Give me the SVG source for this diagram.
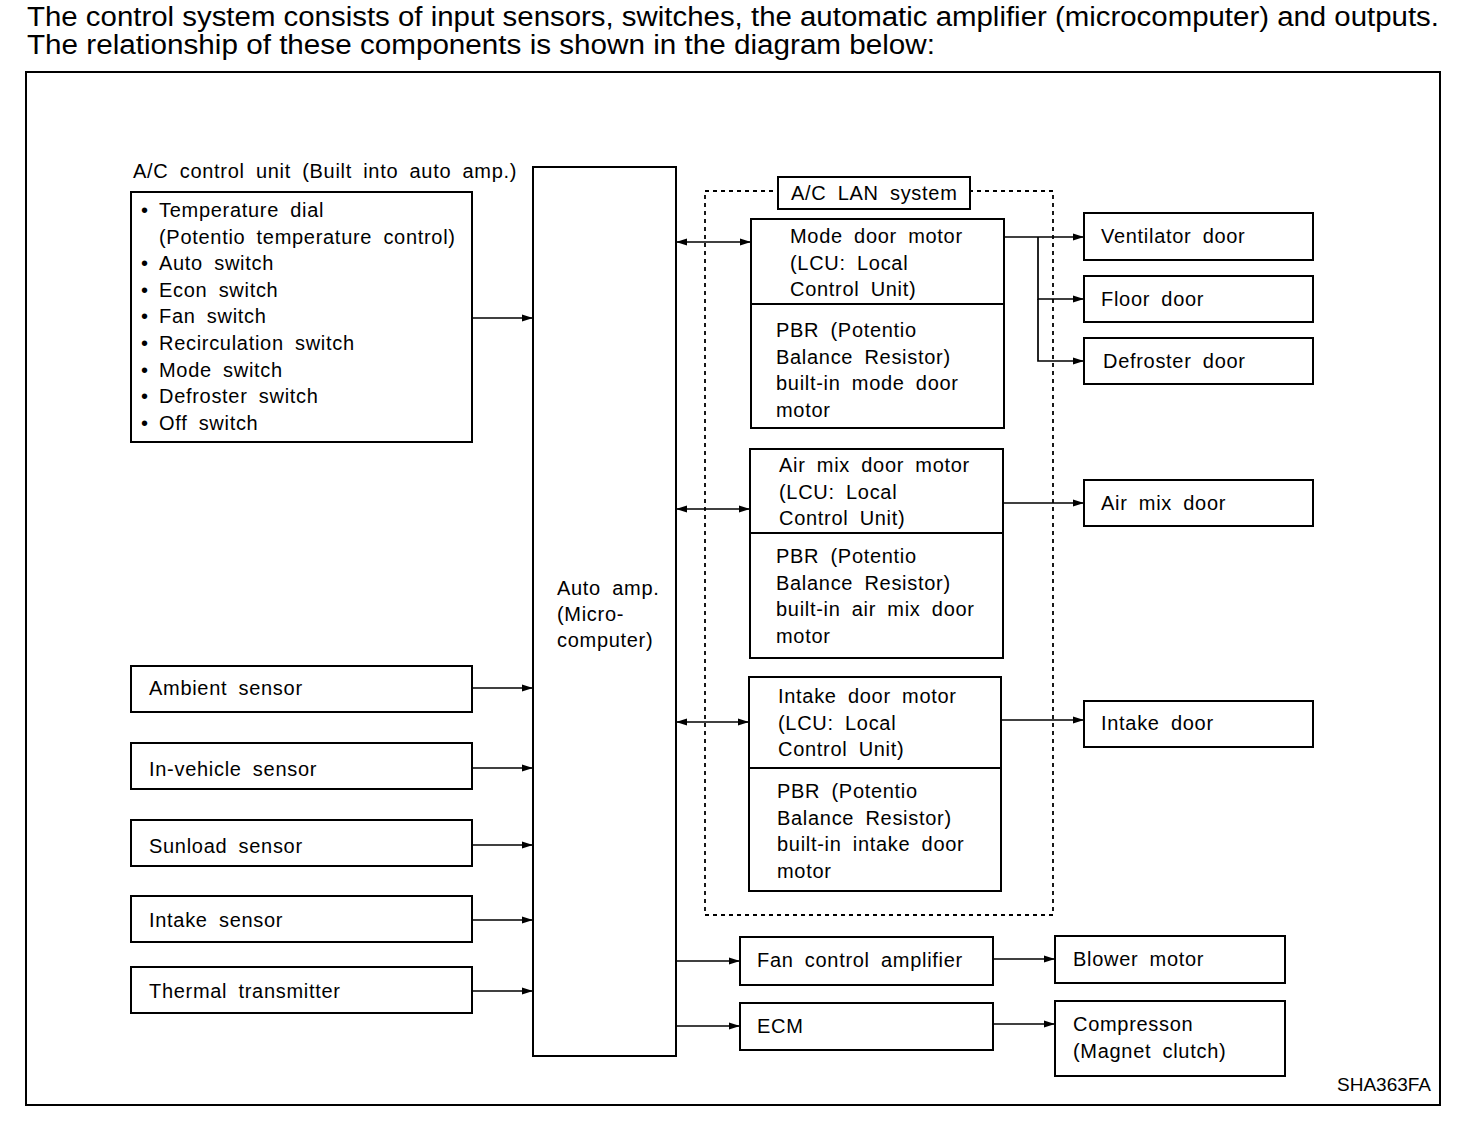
<svg xmlns="http://www.w3.org/2000/svg" width="1472" height="1128" viewBox="0 0 1472 1128">
<defs>
<marker id="ah" markerUnits="userSpaceOnUse" markerWidth="12" markerHeight="8" refX="11" refY="4" orient="auto-start-reverse"><path d="M0,0.5 L11,4 L0,7.5 z" fill="#000"/></marker>
<style>
.box{fill:#fff;stroke:#000;stroke-width:2}
.frame{fill:none;stroke:#000;stroke-width:2}
.lan{fill:none;stroke:#000;stroke-width:1.8;stroke-dasharray:4 4}
.div{stroke:#000;stroke-width:2}
.c{fill:none;stroke:#000;stroke-width:1.7}
.a{marker-end:url(#ah)}
.b{marker-start:url(#ah);marker-end:url(#ah)}
text{font-family:"Liberation Sans",Arial,Helvetica,sans-serif;fill:#000}
.t{font-size:20px;letter-spacing:0.7px;word-spacing:5px}
.h{font-size:27px}
.s{font-size:19px}
</style>
</defs>
<rect width="1472" height="1128" fill="#fff"/>
<g id="header">
<text class="h" x="27" y="26" textLength="1412" lengthAdjust="spacingAndGlyphs">The control system consists of input sensors, switches, the automatic amplifier (microcomputer) and outputs.</text>
<text class="h" x="27" y="54" textLength="908" lengthAdjust="spacingAndGlyphs">The relationship of these components is shown in the diagram below:</text>
</g>
<rect class="frame" x="26" y="72" width="1414" height="1033"/>
<g id="lan-system">
<rect class="lan" x="705" y="191" width="348" height="724"/>
<rect class="box" x="778" y="177" width="192" height="32"/>
<text class="t" x="791" y="200">A/C LAN system</text>
</g>
<g id="connectors">
<line class="c a" x1="472" y1="318" x2="533" y2="318"/>
<line class="c a" x1="472" y1="688" x2="533" y2="688"/>
<line class="c a" x1="472" y1="768" x2="533" y2="768"/>
<line class="c a" x1="472" y1="845" x2="533" y2="845"/>
<line class="c a" x1="472" y1="920" x2="533" y2="920"/>
<line class="c a" x1="472" y1="991" x2="533" y2="991"/>
<line class="c b" x1="676" y1="242" x2="751" y2="242"/>
<line class="c b" x1="676" y1="509" x2="750" y2="509"/>
<line class="c b" x1="676" y1="722" x2="749" y2="722"/>
<line class="c a" x1="1004" y1="237" x2="1084" y2="237"/>
<polyline class="c a" points="1038,237 1038,299 1084,299"/>
<polyline class="c a" points="1038,299 1038,361 1084,361"/>
<line class="c a" x1="1003" y1="503" x2="1084" y2="503"/>
<line class="c a" x1="1001" y1="720" x2="1084" y2="720"/>
<line class="c a" x1="676" y1="961" x2="740" y2="961"/>
<line class="c a" x1="676" y1="1026" x2="740" y2="1026"/>
<line class="c a" x1="993" y1="959" x2="1055" y2="959"/>
<line class="c a" x1="993" y1="1024" x2="1055" y2="1024"/>
</g>
<g id="ac-control-unit">
<text class="t" x="133" y="178">A/C control unit (Built into auto amp.)</text>
<rect class="box" x="131" y="192" width="341" height="250"/>
<g class="t">
<text x="141" y="217">•</text><text x="159" y="217">Temperature dial</text>
<text x="159" y="243.6">(Potentio temperature control)</text>
<text x="141" y="270.2">•</text><text x="159" y="270.2">Auto switch</text>
<text x="141" y="296.8">•</text><text x="159" y="296.8">Econ switch</text>
<text x="141" y="323.4">•</text><text x="159" y="323.4">Fan switch</text>
<text x="141" y="350">•</text><text x="159" y="350">Recirculation switch</text>
<text x="141" y="376.6">•</text><text x="159" y="376.6">Mode switch</text>
<text x="141" y="403.2">•</text><text x="159" y="403.2">Defroster switch</text>
<text x="141" y="429.8">•</text><text x="159" y="429.8">Off switch</text>
</g>
</g>
<g id="ambient-sensor"><rect class="box" x="131" y="666" width="341" height="46"/><text class="t" x="149" y="695">Ambient sensor</text></g>
<g id="in-vehicle-sensor"><rect class="box" x="131" y="743" width="341" height="46"/><text class="t" x="149" y="776">In-vehicle sensor</text></g>
<g id="sunload-sensor"><rect class="box" x="131" y="820" width="341" height="46"/><text class="t" x="149" y="853">Sunload sensor</text></g>
<g id="intake-sensor"><rect class="box" x="131" y="896" width="341" height="46"/><text class="t" x="149" y="927">Intake sensor</text></g>
<g id="thermal-transmitter"><rect class="box" x="131" y="967" width="341" height="46"/><text class="t" x="149" y="998">Thermal transmitter</text></g>
<g id="auto-amp">
<rect class="box" x="533" y="167" width="143" height="889"/>
<text class="t" x="557" y="595">Auto amp.</text>
<text class="t" x="557" y="621">(Micro-</text>
<text class="t" x="557" y="647">computer)</text>
</g>
<g id="mode-door-motor">
<rect class="box" x="751" y="219" width="253" height="209"/>
<line class="div" x1="751" y1="304" x2="1004" y2="304"/>
<text class="t" x="790" y="243">Mode door motor</text>
<text class="t" x="790" y="270">(LCU: Local</text>
<text class="t" x="790" y="296">Control Unit)</text>
<text class="t" x="776" y="337">PBR (Potentio</text>
<text class="t" x="776" y="364">Balance Resistor)</text>
<text class="t" x="776" y="390">built-in mode door</text>
<text class="t" x="776" y="417">motor</text>
</g>
<g id="air-mix-door-motor">
<rect class="box" x="750" y="449" width="253" height="209"/>
<line class="div" x1="750" y1="533" x2="1003" y2="533"/>
<text class="t" x="779" y="472">Air mix door motor</text>
<text class="t" x="779" y="499">(LCU: Local</text>
<text class="t" x="779" y="525">Control Unit)</text>
<text class="t" x="776" y="563">PBR (Potentio</text>
<text class="t" x="776" y="590">Balance Resistor)</text>
<text class="t" x="776" y="616">built-in air mix door</text>
<text class="t" x="776" y="643">motor</text>
</g>
<g id="intake-door-motor">
<rect class="box" x="749" y="677" width="252" height="214"/>
<line class="div" x1="749" y1="768" x2="1001" y2="768"/>
<text class="t" x="778" y="703">Intake door motor</text>
<text class="t" x="778" y="730">(LCU: Local</text>
<text class="t" x="778" y="756">Control Unit)</text>
<text class="t" x="777" y="798">PBR (Potentio</text>
<text class="t" x="777" y="825">Balance Resistor)</text>
<text class="t" x="777" y="851">built-in intake door</text>
<text class="t" x="777" y="878">motor</text>
</g>
<g id="ventilator-door"><rect class="box" x="1084" y="213" width="229" height="47"/><text class="t" x="1101" y="243">Ventilator door</text></g>
<g id="floor-door"><rect class="box" x="1084" y="276" width="229" height="46"/><text class="t" x="1101" y="306">Floor door</text></g>
<g id="defroster-door"><rect class="box" x="1084" y="338" width="229" height="46"/><text class="t" x="1103" y="368">Defroster door</text></g>
<g id="air-mix-door"><rect class="box" x="1084" y="480" width="229" height="46"/><text class="t" x="1101" y="510">Air mix door</text></g>
<g id="intake-door"><rect class="box" x="1084" y="701" width="229" height="46"/><text class="t" x="1101" y="730">Intake door</text></g>
<g id="fan-control-amplifier"><rect class="box" x="740" y="937" width="253" height="48"/><text class="t" x="757" y="967">Fan control amplifier</text></g>
<g id="blower-motor"><rect class="box" x="1055" y="936" width="230" height="47"/><text class="t" x="1073" y="966">Blower motor</text></g>
<g id="ecm"><rect class="box" x="740" y="1003" width="253" height="47"/><text class="t" x="757" y="1033">ECM</text></g>
<g id="compresson"><rect class="box" x="1055" y="1001" width="230" height="75"/><text class="t" x="1073" y="1031">Compresson</text><text class="t" x="1073" y="1058">(Magnet clutch)</text></g>
<text class="s" x="1431" y="1091" text-anchor="end">SHA363FA</text>
</svg>
